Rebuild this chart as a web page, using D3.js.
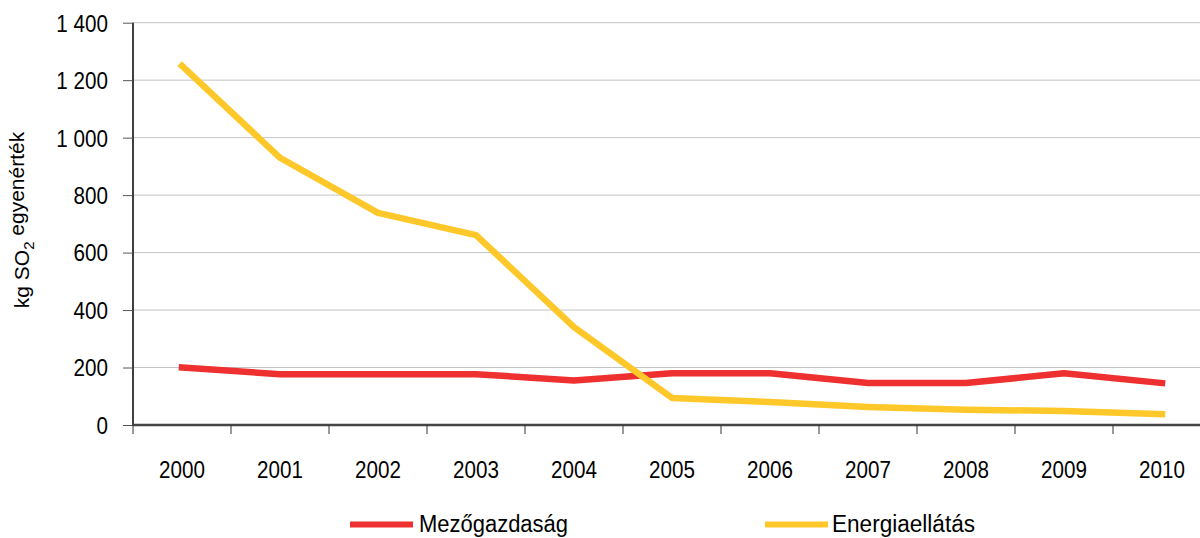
<!DOCTYPE html>
<html><head><meta charset="utf-8">
<script src="https://cdn.jsdelivr.net/npm/d3@7"></script>
<style>body{margin:0;background:#fff}svg{display:block}text{font-family:"Liberation Sans",Arial,sans-serif;fill:#000}</style>
</head><body>
<svg id="c" width="1200" height="538"></svg>
<script>
const years = ["2000","2001","2002","2003","2004","2005","2006","2007","2008","2009","2010"];
const mezogazdasag = [200,177,177,177,155,180,180,146,146,180,146];
const energiaellatas = [1250,930,738,661,341,94,80,63,53,49,38];
const yTicks = [0,200,400,600,800,1000,1200,1400];
const seriesNames = ["Mezőgazdaság","Energiaellátás"];
const colors = ["#EE3030","#FFC82A"];

const svg = d3.select("#c");
const x = d3.scaleBand().domain(years).range([133,1211]);
const y = d3.scaleLinear().domain([0,1400]).range([425,22.7]);
const fmt = v => d3.format(",")(v).replace(/,/g," ");
const SX = 0.86;

// gridlines
svg.append("g").selectAll("line").data(yTicks.filter(d=>d>0)).join("line")
  .attr("x1",133).attr("x2",1211).attr("y1",d=>y(d)).attr("y2",d=>y(d))
  .attr("stroke","#c4c4c4").attr("stroke-width",1);

// y axis
const ya = svg.append("g").attr("transform","translate(133,0)")
  .call(d3.axisLeft(y).tickValues(yTicks).tickSize(10).tickPadding(0).tickFormat(fmt));
ya.select(".domain").attr("stroke","#000").attr("stroke-width",1.5).attr("d","M0,"+y(1400)+"V425");
ya.selectAll(".tick line").attr("stroke","#555");
ya.selectAll("text").style("font-size","24px").attr("fill","#000")
  .attr("x",0).attr("dy","0.35em").attr("transform","translate(-25,0) scale("+SX+",1)");

// x axis
const xa = svg.append("g").attr("transform","translate(0,425)")
  .call(d3.axisBottom(x).tickSize(0).tickPadding(0));
xa.select(".domain").attr("stroke","#444").attr("stroke-width",2.5).attr("d","M133,0H1211");
xa.selectAll("text").style("font-size","24px").attr("fill","#000")
  .attr("y",0).attr("dy",0).attr("transform","translate(0,53) scale("+SX+",1)");
svg.append("g").selectAll("line").data(years).join("line")
  .attr("x1",d=>x(d)).attr("x2",d=>x(d)).attr("y1",425).attr("y2",434)
  .attr("stroke","#333").attr("stroke-width",1);
svg.append("line").attr("x1",x.range()[1]).attr("x2",x.range()[1]).attr("y1",425).attr("y2",434).attr("stroke","#333");

// lines
const line = d3.line().x((d,i)=>x(years[i])+x.bandwidth()/2).y(d=>y(d));
[mezogazdasag, energiaellatas].forEach((s,i)=>{
  svg.append("path").datum(s).attr("d",line).attr("fill","none")
    .attr("stroke",colors[i]).attr("stroke-width",6.5).attr("stroke-linejoin","round").attr("stroke-linecap","square");
});

// y title
svg.append("text").attr("transform","translate(29,220) rotate(-90)").attr("text-anchor","middle")
  .style("font-size","21px")
  .html('kg SO<tspan baseline-shift="-5" font-size="15px">2</tspan><tspan baseline-shift="5"> egyenérték</tspan>');

// legend
const leg = [{x:350,tx:419},{x:765,tx:832}];
seriesNames.forEach((n,i)=>{
  svg.append("line").attr("x1",leg[i].x).attr("x2",leg[i].x+63).attr("y1",524.5).attr("y2",524.5)
    .attr("stroke",colors[i]).attr("stroke-width",6);
  svg.append("text").attr("x",leg[i].tx).attr("y",532).style("font-size","23px")
    .attr("textLength", i===0?149:143).attr("lengthAdjust","spacingAndGlyphs").text(n);
});
</script>
</body></html>
